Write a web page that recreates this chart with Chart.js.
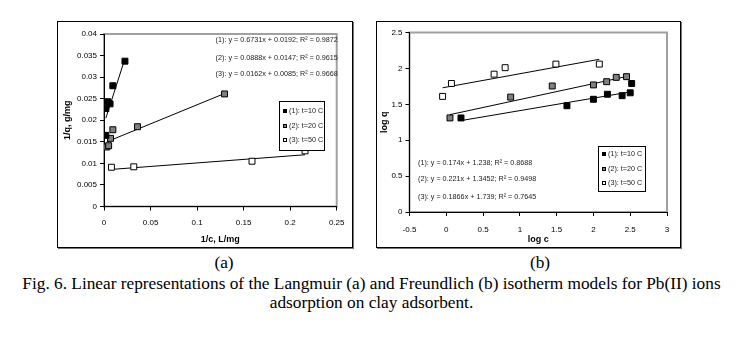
<!DOCTYPE html>
<html>
<head>
<meta charset="utf-8">
<script src="https://cdn.jsdelivr.net/npm/chart.js@4.4.1/dist/chart.umd.min.js"></script>
<style>
    body { margin: 0; background: #fff; width: 743px; height: 345px; position: relative; overflow: hidden;
           font-family: 'Liberation Sans', Arial, sans-serif; }
    .frame { position: absolute; border: 1px solid #000; box-sizing: border-box; box-shadow: 1px 1px 0 #777; background: #fff; }
    #frame-a { left: 57px; top: 21px; width: 296px; height: 227px; }
    #frame-b { left: 376px; top: 21px; width: 305px; height: 227px; }
    .box { position: absolute; left: 0; top: 0; }
    #frame-a .box { width: 294px; height: 225px; }
    #frame-b .box { width: 303px; height: 225px; }
    .eq { position: absolute; font-size: 8px; line-height: 10px; white-space: nowrap; color: #222; transform: scaleX(0.9); }
    .eq.right { transform-origin: 100% 50%; text-align: right; }
    .eq.left { transform-origin: 0 50%; }
    .legend { position: absolute; border: 1px solid #000; background: #fff; box-sizing: border-box; padding-top: 2px; }
    .legend div { font-size: 8px; line-height: 14.5px; height: 14.5px; white-space: nowrap; color: #222; position: relative; }
    .legend .sw { position: absolute; left: 3px; top: 5px; width: 4px; height: 4px; box-sizing: border-box; border: 1px solid #000; }
    .legend .tx { position: absolute; left: 9px; top: 0; transform: scaleX(0.9); transform-origin: 0 50%; }
    .cap { position: absolute; font-family: 'Liberation Serif', 'Times New Roman', serif; font-size: 17.3px; color: #000; white-space: nowrap; }
</style>
</head>
<body>

<div class="frame" id="frame-a"><div class="box"><canvas id="chart-a"></canvas></div></div>
<div class="frame" id="frame-b"><div class="box"><canvas id="chart-b"></canvas></div></div>

<!-- equazioni delle rette di regressione -->
<div class="eq right" style="right:405px;top:35px">(1): y = 0.6731x + 0.0192; R² = 0.9872</div>
<div class="eq right" style="right:405px;top:52.5px">(2): y = 0.0888x + 0.0147; R² = 0.9615</div>
<div class="eq right" style="right:405px;top:68.5px">(3): y = 0.0162x + 0.0085; R² = 0.9668</div>

<div class="eq left" style="left:418px;top:158px">(1): y = 0.174x + 1.238; R² = 0.8688</div>
<div class="eq left" style="left:418px;top:174px">(2): y = 0.221x + 1.3452; R² = 0.9498</div>
<div class="eq left" style="left:418px;top:191.5px">(3): y = 0.1866x + 1.739; R² = 0.7645</div>

<!-- legende -->
<div class="legend" id="legend-a" style="left:279px;top:101px;width:46px;height:50px"></div>
<div class="legend" id="legend-b" style="left:598px;top:146px;width:48px;height:46px;padding-top:0"></div>

<div class="cap" style="left:224px;top:253px;transform:translateX(-50%)">(a)</div>
<div class="cap" style="left:540px;top:253px;transform:translateX(-50%)">(b)</div>
<div class="cap" style="left:0;top:274px;width:743px;text-align:center;line-height:19px;white-space:normal">
    Fig. 6. Linear representations of the Langmuir (a) and Freundlich (b) isotherm models for Pb(II) ions<br>adsorption on clay adsorbent.
</div>

<script>
// Isoterme Pb(II) - Langmuir (a) e Freundlich (b)

// Langmuir: 1/c (L/mg) vs 1/q (g/mg)
const langX1 = [0.002, 0.002, 0.004, 0.0065, 0.0095, 0.0225];
const langY1 = [0.0165, 0.0227, 0.0243, 0.0238, 0.028, 0.0337];
const langX2 = [0.003, 0.005, 0.007, 0.0095, 0.036, 0.1295];
const langY2 = [0.0138, 0.0141, 0.0158, 0.0178, 0.0185, 0.0261];
const langX3 = [0.008, 0.032, 0.159, 0.216];
const langY3 = [0.0091, 0.0092, 0.0105, 0.0129];
// estremi delle rette di tendenza
const langFitX1 = [0.002, 0.0225];
const langFitY1 = [0.0205, 0.0343];
const langFitX2 = [0.003, 0.1295];
const langFitY2 = [0.0150, 0.0262];
const langFitX3 = [0.008, 0.216];
const langFitY3 = [0.0086, 0.0120];

const langXTicks = [0, 0.05, 0.1, 0.15, 0.2, 0.25];
const langXLabels = ['0', '0.05', '0.1', '0.15', '0.2', '0.25'];
const langYTicks = [0, 0.005, 0.01, 0.015, 0.02, 0.025, 0.03, 0.035, 0.04];
const langYLabels = ['0', '0.005', '0.01', '0.015', '0.02', '0.025', '0.03', '0.035', '0.04'];

// Freundlich: log c vs log q
const freX1 = [0.2, 1.64, 2.0, 2.19, 2.39, 2.5, 2.52];
const freY1 = [1.31, 1.48, 1.57, 1.64, 1.62, 1.66, 1.79];
const freX2 = [0.05, 0.875, 1.44, 2.0, 2.18, 2.31, 2.45];
const freY2 = [1.31, 1.60, 1.755, 1.77, 1.815, 1.875, 1.885];
const freX3 = [-0.05, 0.07, 0.65, 0.80, 1.49, 2.08];
const freY3 = [1.61, 1.79, 1.92, 2.01, 2.06, 2.06];
const freFitX1 = [0.2, 2.52];
const freFitY1 = [1.273, 1.676];
const freFitX2 = [0.05, 2.45];
const freFitY2 = [1.356, 1.887];
const freFitX3 = [-0.05, 2.08];
const freFitY3 = [1.730, 2.127];

const freXTicks = [-0.5, 0, 0.5, 1, 1.5, 2, 2.5, 3];
const freXLabels = ['-0.5', '0', '0.5', '1', '1.5', '2', '2.5', '3'];
const freYTicks = [0, 0.5, 1, 1.5, 2, 2.5];
const freYLabels = ['0', '0.5', '1', '1.5', '2', '2.5'];

const seriesNames = ['(1): t=10 C', '(2): t=20 C', '(3): t=50 C'];
const seriesFill = ['#000000', '#808080', '#ffffff'];

Chart.defaults.font.family = "'Liberation Sans', Arial, sans-serif";
Chart.defaults.color = '#000';

/**
 * Bordo grigio dell'area del grafico (stile Excel)
 */
const plotFramePlugin = {
    id: 'plotFrame',
    beforeDraw(chart) {
        const a = chart.chartArea;
        const ctx = chart.ctx;
        ctx.save();
        ctx.strokeStyle = '#a0a0a0';
        ctx.lineWidth = 2;
        ctx.strokeRect(a.left, a.top, a.right - a.left, a.bottom - a.top);
        ctx.restore();
    }
};

function toPoints(xs, ys) {
    return xs.map((x, i) => ({ x: x, y: ys[i] }));
}

function buildDatasets(xs, ys, fitXs, fitYs) {
    const sets = [];
    for (let i = 0; i < 3; i++) {
        sets.push({
            label: seriesNames[i],
            data: toPoints(xs[i], ys[i]),
            pointStyle: 'rect',
            pointRadius: 4.2,
            pointBorderWidth: 1,
            pointBorderColor: '#000',
            pointBackgroundColor: seriesFill[i],
            showLine: false,
            order: 0
        });
    }
    for (let i = 0; i < 3; i++) {
        sets.push({
            label: 'fit ' + (i + 1),
            data: toPoints(fitXs[i], fitYs[i]),
            showLine: true,
            borderColor: '#000',
            borderWidth: 1,
            pointRadius: 0,
            order: 1
        });
    }
    return sets;
}

function axisOptions(cfg) {
    return {
        type: 'linear',
        position: cfg.position,
        min: cfg.ticks[0],
        max: cfg.ticks[cfg.ticks.length - 1],
        afterBuildTicks: scale => { scale.ticks = cfg.ticks.map(v => ({ value: v })); },
        afterFit: scale => {
            if (cfg.position === 'left') scale.width = cfg.size;
            else scale.height = cfg.size;
        },
        grid: { drawOnChartArea: false, drawTicks: true, tickLength: 4, color: '#000' },
        border: { display: true, color: '#000', width: 1 },
        ticks: {
            autoSkip: false,
            maxRotation: 0,
            padding: cfg.tickPadding,
            font: { size: 8 },
            color: '#000',
            callback: (value, index) => cfg.labels[index]
        },
        title: {
            display: true,
            text: cfg.title,
            font: { size: 9, weight: 'bold' },
            color: '#000',
            padding: cfg.titlePadding
        }
    };
}

function makeIsothermChart(canvasId, datasets, layoutPadding, xCfg, yCfg) {
    const ctx = document.getElementById(canvasId);
    return new Chart(ctx, {
        type: 'scatter',
        data: { datasets: datasets },
        options: {
            responsive: true,
            maintainAspectRatio: false,
            animation: false,
            layout: { padding: layoutPadding },
            plugins: {
                legend: { display: false },
                tooltip: { enabled: false }
            },
            scales: {
                x: axisOptions(xCfg),
                y: axisOptions(yCfg)
            }
        },
        plugins: [plotFramePlugin]
    });
}

function fillLegend(id) {
    const el = document.getElementById(id);
    seriesNames.forEach((name, i) => {
        const row = document.createElement('div');
        const sw = document.createElement('span');
        sw.className = 'sw';
        sw.style.background = seriesFill[i];
        const tx = document.createElement('span');
        tx.className = 'tx';
        tx.textContent = name;
        row.appendChild(sw);
        row.appendChild(tx);
        el.appendChild(row);
    });
}

// (a) Langmuir
makeIsothermChart('chart-a',
    buildDatasets([langX1, langX2, langX3], [langY1, langY2, langY3],
                  [langFitX1, langFitX2, langFitX3], [langFitY1, langFitY2, langFitY3]),
    { left: 0, top: 12, right: 7.5, bottom: 0 },
    { position: 'bottom', ticks: langXTicks, labels: langXLabels, size: 40.5, tickPadding: 7.5,
      title: '1/c, L/mg', titlePadding: { top: 0, bottom: 2.3 } },
    { position: 'left', ticks: langYTicks, labels: langYLabels, size: 46, tickPadding: 3,
      title: '1/q, g/mg', titlePadding: { top: 4, bottom: 0 } }
);

// (b) Freundlich
makeIsothermChart('chart-b',
    buildDatasets([freX1, freX2, freX3], [freY1, freY2, freY3],
                  [freFitX1, freFitX2, freFitX3], [freFitY1, freFitY2, freFitY3]),
    { left: 0, top: 10.5, right: 13, bottom: 0 },
    { position: 'bottom', ticks: freXTicks, labels: freXLabels, size: 35, tickPadding: 8.5,
      title: 'log c', titlePadding: { top: 0, bottom: 2.3 } },
    { position: 'left', ticks: freYTicks, labels: freYLabels, size: 32.5, tickPadding: 3,
      title: 'log q', titlePadding: { top: 2.5, bottom: 0 } }
);

fillLegend('legend-a');
fillLegend('legend-b');
</script>
</body>
</html>
